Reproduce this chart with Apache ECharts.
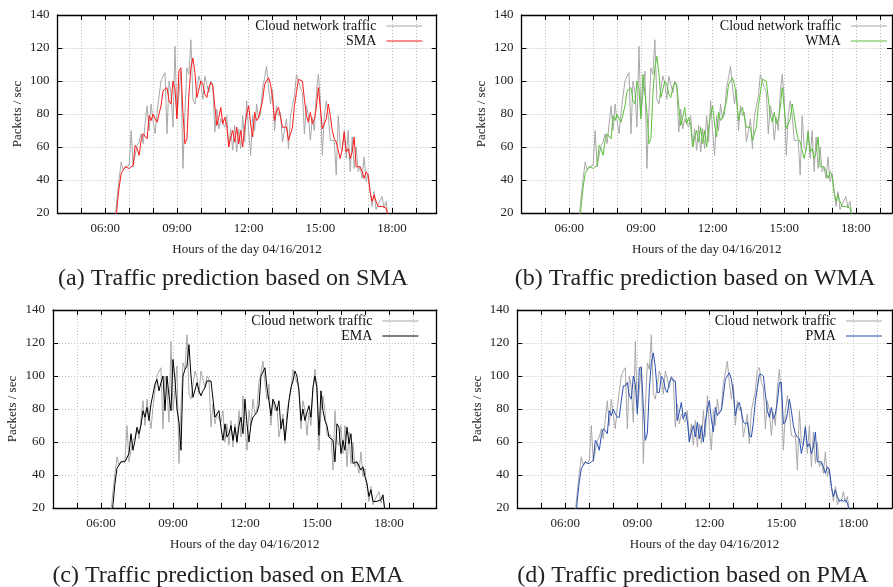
<!DOCTYPE html>
<html>
<head>
<meta charset="utf-8">
<script src="https://cdn.jsdelivr.net/npm/echarts@6/dist/echarts.min.js"></script>
<style>
  html, body { margin: 0; padding: 0; background: #fff; }
  #chart { width: 893px; height: 587px; }
</style>
</head>
<body>
<div id="chart"></div>
<script>
// samples every 5 minutes, first one at 06:25
const startMinute = 6 * 60 + 25;
const stepMinute = 5;

const yTicks = { min: 20, max: 140, step: 20 };

// cloud network traffic (packets / sec), same in all four panels
const traffic = [
  18, 30, 41, 51, 46, 48, 47, 49, 70, 48,
  55, 61, 63, 68, 62, 74, 85, 70, 86, 76,
  68, 81, 91, 100, 103, 105, 68, 100, 93, 72,
  121, 79, 92, 106, 47, 81, 108, 104, 125, 89,
  86, 95, 103, 99, 89, 103, 98, 93, 100, 98,
  69, 83, 71, 77, 74, 72, 79, 60, 71, 58,
  73, 57, 71, 59, 79, 63, 88, 70, 55, 79,
  70, 86, 77, 80, 96, 102, 109, 96, 86, 95,
  70, 85, 79, 81, 63, 70, 77, 59, 79, 85,
  91, 104, 105, 96, 93, 68, 85, 79, 64, 78,
  70, 93, 104, 89, 55, 79, 88, 79, 64, 63,
  64, 43, 79, 60, 58, 70, 53, 70, 45, 66,
  47, 60, 45, 48, 41, 54, 39, 44, 33, 24,
  33, 22, 25, 24, 30, 23, 27, 18
];

const sma = [
  10, 25, 36, 44, 46, 48, 47, 47, 48, 49,
  61, 59, 55, 64, 68, 67, 65, 79, 76, 80,
  77, 75, 75, 85, 94, 94, 96, 88, 86, 100,
  95, 77, 106, 108, 81, 62, 65, 92, 108, 114,
  105, 90, 90, 100, 98, 92, 90, 96, 99, 97,
  97, 73, 78, 84, 74, 78, 73, 60, 66, 70,
  63, 72, 62, 70, 60, 72, 80, 85, 74, 66,
  81, 76, 78, 79, 88, 98, 100, 102, 98, 90,
  76, 82, 84, 78, 72, 71, 72, 64, 63, 72,
  85, 93, 101, 101, 100, 89, 79, 75, 81, 74,
  77, 84, 96, 96, 71, 72, 77, 86, 79, 70,
  65, 63, 62, 53, 59, 69, 57, 59, 53, 57,
  66, 48, 48, 48, 45, 41, 45, 43, 33, 27,
  31, 27, 24, 25, 24, 25, 23, 18
];

const wma = [
  10, 25, 36, 44, 46, 48, 47, 47, 48, 49,
  61, 59, 55, 64, 68, 67, 65, 79, 76, 80,
  77, 75, 75, 85, 94, 94, 96, 88, 86, 100,
  95, 77, 104, 104, 81, 62, 65, 92, 108, 115,
  105, 90, 90, 100, 98, 92, 90, 96, 99, 97,
  97, 73, 78, 84, 74, 78, 73, 60, 66, 70,
  63, 72, 62, 70, 60, 72, 80, 85, 74, 66,
  81, 76, 78, 79, 88, 98, 100, 102, 98, 90,
  76, 82, 84, 78, 72, 71, 72, 64, 63, 72,
  85, 93, 101, 101, 100, 89, 79, 75, 81, 74,
  77, 84, 96, 96, 71, 72, 77, 86, 79, 70,
  65, 63, 62, 53, 59, 69, 57, 59, 53, 57,
  66, 48, 48, 48, 45, 41, 45, 43, 33, 27,
  31, 27, 24, 25, 24, 25, 23, 18
];

const ema = [
  10, 22, 35, 44, 46, 48, 47, 48, 48, 53,
  65, 55, 61, 69, 65, 70, 79, 75, 81, 73,
  83, 89, 95, 98, 91, 96, 100, 79, 100, 88,
  79, 110, 98, 80, 72, 55, 100, 104, 106, 119,
  100, 87, 88, 96, 91, 88, 91, 93, 97, 98,
  97, 96, 75, 74, 79, 69, 61, 71, 63, 65,
  70, 61, 69, 60, 70, 75, 65, 86, 71, 60,
  71, 75, 75, 78, 82, 100, 101, 105, 93, 85,
  76, 86, 83, 79, 85, 68, 74, 61, 73, 85,
  93, 97, 103, 100, 91, 73, 80, 73, 78, 82,
  75, 93, 100, 93, 64, 91, 79, 73, 70, 63,
  62, 61, 48, 71, 69, 53, 61, 55, 69, 59,
  65, 47, 48, 48, 48, 43, 45, 39, 35, 27,
  31, 24, 25, 24, 25, 25, 28, 18
];

const pma = [
  10, 25, 36, 44, 46, 48, 47, 47, 48, 49,
  61, 59, 55, 64, 68, 67, 65, 79, 76, 80,
  77, 75, 75, 85, 94, 94, 96, 88, 86, 100,
  95, 77, 105, 105, 81, 61, 65, 92, 108, 114,
  105, 90, 90, 100, 98, 92, 90, 96, 99, 97,
  97, 73, 78, 84, 74, 78, 73, 60, 66, 70,
  63, 72, 62, 70, 60, 72, 80, 85, 74, 66,
  81, 76, 78, 79, 88, 98, 100, 102, 98, 90,
  76, 82, 84, 78, 72, 71, 72, 64, 63, 72,
  85, 93, 101, 101, 100, 89, 79, 75, 81, 74,
  77, 84, 96, 96, 71, 72, 77, 86, 79, 70,
  65, 63, 62, 53, 59, 69, 57, 59, 53, 57,
  66, 48, 48, 48, 45, 41, 45, 43, 33, 27,
  31, 27, 24, 25, 24, 25, 23, 18
];

// right panels are cut off by the page edge, so their time range stops early
const panels = [
  { name: 'SMA', values: sma, color: '#ff1a1a', left: 57.5, top: 15, width: 379.2, xMax: 19.87, legendRight: 470, caption: '(a) Traffic prediction based on SMA', capX: 233, capY: 279 },
  { name: 'WMA', values: wma, color: '#5cbf3c', left: 521.5, top: 15, width: 370.5, xMax: 19.51, legendRight: 5.5, caption: '(b) Traffic prediction based on WMA', capX: 695, capY: 279 },
  { name: 'EMA', values: ema, color: '#000000', left: 53, top: 310, width: 383.7, xMax: 19.99, legendRight: 474, caption: '(c) Traffic prediction based on EMA', capX: 228, capY: 576 },
  { name: 'PMA', values: pma, color: '#2a4fb0', left: 517.3, top: 310, width: 374.5, xMax: 19.6, legendRight: 10.5, caption: '(d) Traffic prediction based on PMA', capX: 693, capY: 576 }
];

const font = 'Liberation Serif';
const plotHeight = 198;

function toPoints(vals) {
  return vals.map((v, i) => [(startMinute + i * stepMinute) / 60, v]);
}
function hourLabel(v) {
  if (v % 3 !== 0) return '';
  return (v < 10 ? '0' : '') + v + ':00';
}

const grid = [], xAxis = [], yAxis = [], series = [], legend = [], graphic = [];

panels.forEach((p, i) => {
  grid.push({ left: p.left, top: p.top, width: p.width, height: plotHeight, show: false });

  const tick = { show: true, inside: true, length: 5, lineStyle: { color: '#000', width: 1 } };
  const line = { show: true, onZero: false, lineStyle: { color: '#000', width: 1.3 } };
  const dots = { show: true, lineStyle: { color: '#bdbdbd', type: [1, 2], width: 1 } };

  // bottom axis: labels + grid
  xAxis.push({
    type: 'value', gridIndex: i, min: 4, max: p.xMax, interval: 1,
    axisLine: line, axisTick: tick,
    axisLabel: { formatter: hourLabel, color: '#222', fontFamily: font, fontSize: 13, margin: 9, showMaxLabel: false },
    splitLine: dots,
    name: 'Hours of the day 04/16/2012', nameLocation: 'middle', nameGap: 30,
    nameTextStyle: { color: '#222', fontFamily: font, fontSize: 13 }
  });
  // mirrored ticks on top
  xAxis.push({
    type: 'value', gridIndex: i, min: 4, max: p.xMax, interval: 1, position: 'top',
    axisLine: line, axisTick: tick, axisLabel: { show: false }, splitLine: { show: false }
  });

  yAxis.push({
    type: 'value', gridIndex: i, min: yTicks.min, max: yTicks.max, interval: yTicks.step,
    axisLine: line, axisTick: tick,
    axisLabel: { color: '#222', fontFamily: font, fontSize: 13, margin: 8 },
    splitLine: dots,
    name: 'Packets / sec', nameLocation: 'middle', nameGap: 33.5, nameRotate: 90,
    nameTextStyle: { color: '#222', fontFamily: font, fontSize: 13 }
  });
  yAxis.push({
    type: 'value', gridIndex: i, min: yTicks.min, max: yTicks.max, interval: yTicks.step, position: 'right',
    axisLine: line, axisTick: tick, axisLabel: { show: false }, splitLine: { show: false }
  });

  series.push({
    name: 'Cloud network traffic', type: 'line', xAxisIndex: i * 2, yAxisIndex: i * 2,
    data: toPoints(traffic), symbol: 'none', clip: true,
    lineStyle: { color: '#a8a8a8', width: 1 }, itemStyle: { color: '#a8a8a8' }, z: 2
  });
  series.push({
    name: p.name, type: 'line', xAxisIndex: i * 2, yAxisIndex: i * 2,
    data: toPoints(p.values), symbol: 'none', clip: true,
    lineStyle: { color: p.color, width: 1 }, itemStyle: { color: p.color }, z: 3
  });

  // plain line samples: hide the marker the line legend puts in the middle
  legend.push({
    data: ['Cloud network traffic', p.name], orient: 'vertical', align: 'right',
    right: p.legendRight, top: p.top + 4, padding: 0, itemGap: 1, itemWidth: 36, itemHeight: 14,
    selectedMode: false,
    itemStyle: { opacity: 0, borderWidth: 0 },
    lineStyle: { width: 1.2 },
    textStyle: { color: '#111', fontFamily: font, fontSize: 14, padding: [0, 5, 0, 0] }
  });

  graphic.push({
    type: 'text', x: p.capX, y: p.capY,
    style: { text: p.caption, textAlign: 'center', textVerticalAlign: 'middle', font: '24px "Liberation Serif"', fill: '#222' }
  });
});

const chart = echarts.init(document.getElementById('chart'), null, { renderer: 'canvas' });
chart.setOption({
  animation: false,
  backgroundColor: '#fff',
  grid, xAxis, yAxis, series, legend, graphic
});
</script>
</body>
</html>
